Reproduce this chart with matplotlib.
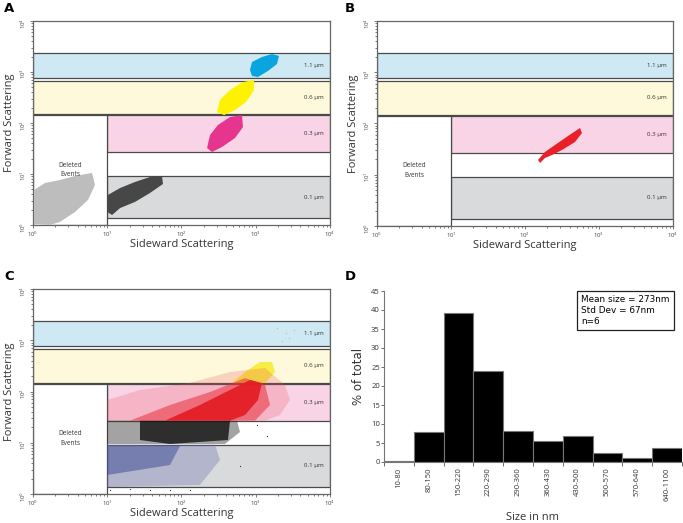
import numpy as np
import matplotlib
matplotlib.use("Agg")
import matplotlib.pyplot as plt
from matplotlib.patches import Rectangle, Polygon

plt.rcParams['font.family'] = ['Open Sans', 'DejaVu Sans']

# ---------------- data ----------------
band_labels = ['1.1 µm', '0.6 µm', '0.3 µm', '0.1 µm']
band_low = [778, 147, 26.5, 1.35]
band_high = [2365, 679, 142, 9.24]
band_xmin = [1, 1, 10, 10]
band_colors = ['#cfe9f4', '#fdf9da', '#f9d4e6', '#d9dadc']
deleted_box_top = 142

# Panel A clouds (outline vertices, data units)
a_cyan_x = [837, 890, 1213, 1656, 2057, 1932, 1462, 1072, 890]
a_cyan_y = [1094, 1570, 1968, 2254, 2061, 1436, 1047, 798, 835]
a_yellow_x = [301, 330, 450, 673, 947, 947, 739, 526, 374]
a_yellow_y = [164, 282, 444, 637, 697, 444, 258, 180, 143]
a_magenta_x = [221, 242, 310, 450, 653, 673, 526, 351, 258]
a_magenta_y = [32.3, 58.2, 91.4, 131, 143, 83.5, 50.8, 33.8, 27.0]
a_dark_x = [10, 10.2, 14.9, 23.6, 37.6, 54.6, 56.3, 37.6, 23.6, 14.9, 11.6]
a_dark_y = [1.80, 3.88, 5.31, 6.97, 8.73, 9.14, 6.37, 4.24, 2.83, 2.15, 1.57]
a_light_x = [1.03, 1.03, 1.45, 2.31, 3.68, 6.23, 6.84, 5.50, 3.68, 2.31, 1.69]
a_light_y = [1.05, 4.86, 6.66, 7.63, 9.14, 10.5, 6.09, 3.09, 1.80, 1.15, 1.0]

# Panel B cloud
b_red_x = [150, 186, 254, 381, 553, 589, 474, 316, 232, 186, 160]
b_red_y = [19.4, 27.8, 38.0, 57.0, 81.7, 65.3, 43.5, 30.4, 24.3, 21.2, 17.0]

# Panel C clouds (sparse outline, then denser cores)
c_blue_x = [10, 283, 330, 177, 10]
c_blue_y = [9.2, 9.2, 4.61, 1.50, 1.37]
c_blue_core_x = [10, 95.5, 70, 10]
c_blue_core_y = [8.64, 8.64, 3.68, 2.35]
c_black_x = [10, 559, 613, 385, 10]
c_black_y = [27, 27, 16.2, 9.46, 9.46]
c_black_core_x = [27.6, 450, 423, 70, 27.6]
c_black_core_y = [27, 27, 11.3, 9.46, 11.3]
c_red_x = [10, 10, 27.6, 130, 450, 1333, 2477, 2892, 2123, 1333]
c_red_y = [27, 68.3, 107, 147, 240, 288, 134, 68.3, 34.8, 27]
c_red_mid_x = [20.2, 70.0, 242, 717, 1333, 1556, 977]
c_red_mid_y = [27, 54.5, 97.8, 183, 134, 54.5, 27]
c_red_core_x = [59.9, 177, 450, 837, 1213, 1072, 717, 450]
c_red_core_y = [27, 54.5, 107, 168, 147, 68.3, 34.8, 27]
c_yellow_x = [479, 717, 1140, 1656, 1816, 1333]
c_yellow_y = [147, 240, 377, 377, 240, 147]
c_stray_yellow_x = [1941, 2518, 3266, 2792, 2270]
c_stray_yellow_y = [1734, 1384, 1607, 1107, 953]
c_stray_black_x = [1042, 1422, 621, 10.9, 20.2, 37.6, 70, 130]
c_stray_black_y = [22.5, 13.3, 3.47, 1.2, 1.25, 1.18, 1.22, 1.2]

# Panel D histogram
size_bins = ['10-80', '80-150', '150-220', '220-290', '290-360', '360-430',
             '430-500', '500-570', '570-640', '640-1100']
pct_total = [0.35, 7.9, 39.2, 23.9, 8.2, 5.6, 6.8, 2.4, 1.1, 3.8]
stats_text = 'Mean size = 273nm\nStd Dev = 67nm\nn=6'

# ---------------- figure ----------------
W, H = 683, 523
fig = plt.figure(figsize=(W / 100, H / 100), dpi=100)


def fr(l, t, r, b):
    return [l / W, 1 - b / H, (r - l) / W, (b - t) / H]


edge = '#4a4a4a'


def flow_panel(ax, clouds, strays=()):
    ax.set_xscale('log')
    ax.set_yscale('log')
    ax.set_xlim(1, 1e4)
    ax.set_ylim(1, 1e4)
    for lab, lo, hi, xm, col in zip(band_labels, band_low, band_high, band_xmin, band_colors):
        ax.add_patch(Rectangle((xm, lo), 1e4 - xm, hi - lo, facecolor=col,
                               edgecolor=edge, lw=0.9, zorder=1))
        ax.text(6000, np.sqrt(lo * hi), lab, fontsize=4.4, color='#333333',
                ha='center', va='center', zorder=5)
    ax.add_patch(Rectangle((1, 1), 9, deleted_box_top - 1, facecolor='white',
                           edgecolor=edge, lw=0.9, zorder=1.5))
    ax.text(3.2, 12, 'Deleted\nEvents', fontsize=4.7, color='#333333',
            ha='center', va='center', linespacing=1.5, zorder=5)
    for xs, ys, col, alpha in clouds:
        ax.add_patch(Polygon(np.column_stack([xs, ys]), closed=True,
                             facecolor=col, edgecolor='none',
                             alpha=alpha, zorder=3))
    for xs, ys, col in strays:
        ax.scatter(xs, ys, s=0.8, color=col, zorder=3, linewidths=0)
    for s in ax.spines.values():
        s.set_color('#666666')
        s.set_linewidth(0.9)
    ax.tick_params(which='both', labelsize=4.3, colors='#444444', length=2,
                   width=0.5, pad=1.5)
    ax.tick_params(which='minor', length=1.2)
    ax.tick_params(axis='y', labelrotation=90)
    ax.set_xlabel('Sideward Scattering', fontsize=8, color='#333333')
    ax.set_ylabel('Forward Scattering', fontsize=8, color='#333333')
    ax.xaxis.set_label_coords(0.5, -0.068)
    ax.yaxis.set_label_coords(-0.062, 0.5)


axA = fig.add_axes(fr(33, 21, 330, 225))
flow_panel(axA, [
    (a_light_x, a_light_y, '#bdbdbd', 1),
    (a_dark_x, a_dark_y, '#474747', 1),
    (a_magenta_x, a_magenta_y, '#e6358f', 1),
    (a_yellow_x, a_yellow_y, '#fff200', 1),
    (a_cyan_x, a_cyan_y, '#0aa5df', 1),
])

axB = fig.add_axes(fr(377, 21, 673, 226))
flow_panel(axB, [(b_red_x, b_red_y, '#e8202a', 1)])

axC = fig.add_axes(fr(33, 289, 330, 494))
flow_panel(axC, [
    (c_blue_x, c_blue_y, '#6a72b0', 0.35),
    (c_blue_core_x, c_blue_core_y, '#2e3a8c', 0.45),
    (c_black_x, c_black_y, '#333333', 0.45),
    (c_black_core_x, c_black_core_y, '#111111', 0.8),
    (c_yellow_x, c_yellow_y, '#f7ea1e', 0.8),
    (c_red_x, c_red_y, '#ec4a58', 0.22),
    (c_red_mid_x, c_red_mid_y, '#e8303a', 0.55),
    (c_red_core_x, c_red_core_y, '#e41e26', 0.95),
], strays=[(c_stray_yellow_x, c_stray_yellow_y, '#c8c050'),
           (c_stray_black_x, c_stray_black_y, '#333333')])

# Panel D
axD = fig.add_axes(fr(384, 291, 682, 462))
xpos = np.arange(len(size_bins)) + 0.5
axD.bar(xpos, pct_total, width=1.0, color='black', edgecolor='#777777', lw=0.8)
axD.set_xlim(0, len(size_bins))
axD.set_ylim(0, 45)
axD.set_yticks(np.arange(0, 46, 5))
axD.set_xticks(np.arange(0, len(size_bins) + 1))
axD.set_xticklabels([])
axD.set_xticks(xpos, minor=True)
axD.set_xticklabels(size_bins, minor=True, rotation=90, fontsize=5.5)
axD.tick_params(axis='x', which='minor', length=0, pad=4)
axD.tick_params(axis='x', which='major', length=3, width=0.6, colors='#555555')
axD.tick_params(axis='y', length=2, width=0.6, labelsize=5.5, colors='#555555', pad=1)
for t in axD.get_xticklabels(minor=True) + axD.get_yticklabels():
    t.set_color('#333333')
for s in ['top', 'right']:
    axD.spines[s].set_visible(False)
for s in ['left', 'bottom']:
    axD.spines[s].set_color('#777777')
    axD.spines[s].set_linewidth(0.8)
axD.set_ylabel('% of total', fontsize=8.5, color='#333333', family=['DejaVu Sans'])
axD.set_xlabel('Size in nm', fontsize=8, color='#333333', labelpad=8)
axD.text(0.662, 0.975, stats_text, transform=axD.transAxes, fontsize=6.4,
         family=['DejaVu Sans'], va='top', ha='left', linespacing=1.3,
         bbox=dict(boxstyle='square,pad=0.45', facecolor='white',
                   edgecolor='#222222', lw=0.9))

for lab, (px, py) in zip('ABCD', [(4, 9), (345, 9), (4, 277), (345, 277)]):
    fig.text(px / W, 1 - py / H, lab, fontsize=9.5, fontweight='bold',
             family=['DejaVu Sans'], va='center', ha='left')

fig.savefig('out.png', dpi=100)
